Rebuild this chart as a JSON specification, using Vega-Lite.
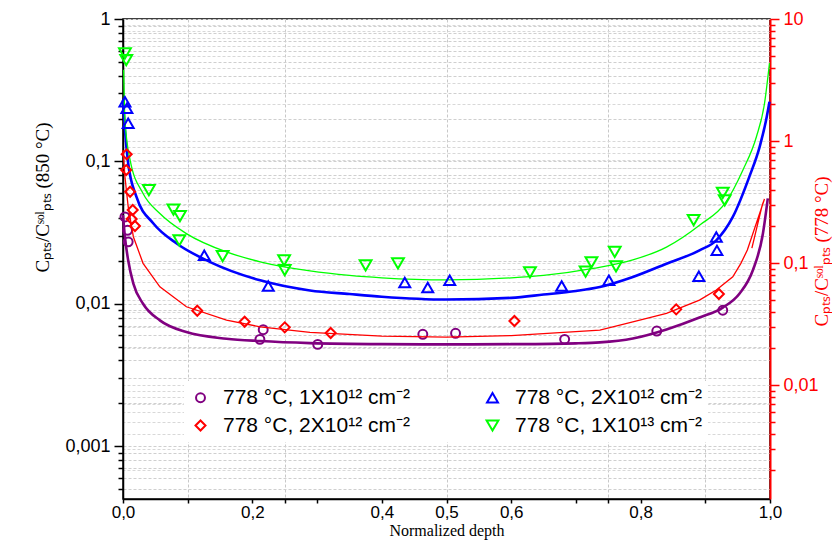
{
  "$schema": "https://vega.github.io/schema/vega-lite/v6.json",
  "width": 647,
  "height": 480,
  "autosize": "none",
  "padding": {"left": 123, "top": 19, "right": 62, "bottom": 45},
  "background": "white",
  "config": {"view": {"stroke": "black", "strokeWidth": 1.5}, "font": "Liberation Sans"},
  "datasets": {
    "curves": [
      {"s":"A","i":0,"x":0.0,"y":0.042},{"s":"A","i":1,"x":0.003,"y":0.0294},{"s":"A","i":2,"x":0.008,"y":0.0202},{"s":"A","i":3,"x":0.016,"y":0.01385},{"s":"A","i":4,"x":0.031,"y":0.0100},{"s":"A","i":5,"x":0.057,"y":0.00764},{"s":"A","i":6,"x":0.098,"y":0.00632},{"s":"A","i":7,"x":0.16,"y":0.00568},{"s":"A","i":8,"x":0.212,"y":0.00547},{"s":"A","i":9,"x":0.289,"y":0.00529},{"s":"A","i":10,"x":0.4,"y":0.0052},{"s":"A","i":11,"x":0.5,"y":0.00518},{"s":"A","i":12,"x":0.6,"y":0.0052},{"s":"A","i":13,"x":0.7,"y":0.00527},{"s":"A","i":14,"x":0.737,"y":0.00535},{"s":"A","i":15,"x":0.788,"y":0.0057},{"s":"A","i":16,"x":0.84,"y":0.0066},{"s":"A","i":17,"x":0.891,"y":0.008},{"s":"A","i":18,"x":0.927,"y":0.0094},{"s":"A","i":19,"x":0.953,"y":0.0118},{"s":"A","i":20,"x":0.9735,"y":0.0172},{"s":"A","i":21,"x":0.989,"y":0.031},{"s":"A","i":22,"x":0.9966,"y":0.055},
      {"s":"B","i":0,"x":0.0,"y":0.27},{"s":"B","i":1,"x":0.003,"y":0.166},{"s":"B","i":2,"x":0.008,"y":0.097},{"s":"B","i":3,"x":0.021,"y":0.056},{"s":"B","i":4,"x":0.047,"y":0.0366},{"s":"B","i":5,"x":0.083,"y":0.0265},{"s":"B","i":6,"x":0.134,"y":0.0197},{"s":"B","i":7,"x":0.212,"y":0.0146},{"s":"B","i":8,"x":0.289,"y":0.0124},{"s":"B","i":9,"x":0.35,"y":0.0117},{"s":"B","i":10,"x":0.4,"y":0.0112},{"s":"B","i":11,"x":0.5,"y":0.0107},{"s":"B","i":12,"x":0.6,"y":0.011},{"s":"B","i":13,"x":0.65,"y":0.0116},{"s":"B","i":14,"x":0.7,"y":0.0123},{"s":"B","i":15,"x":0.737,"y":0.0131},{"s":"B","i":16,"x":0.788,"y":0.0154},{"s":"B","i":17,"x":0.84,"y":0.0191},{"s":"B","i":18,"x":0.891,"y":0.0237},{"s":"B","i":19,"x":0.917,"y":0.0279},{"s":"B","i":20,"x":0.9425,"y":0.0407},{"s":"B","i":21,"x":0.968,"y":0.0778},{"s":"B","i":22,"x":0.984,"y":0.1265},{"s":"B","i":23,"x":0.994,"y":0.195},{"s":"B","i":24,"x":0.9992,"y":0.262},
      {"s":"D","i":0,"x":0.001,"y":0.44},{"s":"D","i":1,"x":0.003,"y":0.195},{"s":"D","i":2,"x":0.011,"y":0.102},{"s":"D","i":3,"x":0.031,"y":0.0595},{"s":"D","i":4,"x":0.057,"y":0.043},{"s":"D","i":5,"x":0.098,"y":0.0311},{"s":"D","i":6,"x":0.16,"y":0.0231},{"s":"D","i":7,"x":0.212,"y":0.0197},{"s":"D","i":8,"x":0.289,"y":0.017},{"s":"D","i":9,"x":0.35,"y":0.0158},{"s":"D","i":10,"x":0.4,"y":0.0152},{"s":"D","i":11,"x":0.5,"y":0.0147},{"s":"D","i":12,"x":0.6,"y":0.0152},{"s":"D","i":13,"x":0.65,"y":0.0158},{"s":"D","i":14,"x":0.7267,"y":0.0177},{"s":"D","i":15,"x":0.788,"y":0.0203},{"s":"D","i":16,"x":0.84,"y":0.025},{"s":"D","i":17,"x":0.891,"y":0.0356},{"s":"D","i":18,"x":0.932,"y":0.0519},{"s":"D","i":19,"x":0.958,"y":0.0867},{"s":"D","i":20,"x":0.979,"y":0.149},{"s":"D","i":21,"x":0.9915,"y":0.255},{"s":"D","i":22,"x":0.9992,"y":0.49},
      {"s":"C","i":0,"x":0.0,"y":0.8436},{"s":"C","i":1,"x":0.003,"y":0.5099},{"s":"C","i":2,"x":0.008,"y":0.2893},{"s":"C","i":3,"x":0.016,"y":0.1643},{"s":"C","i":4,"x":0.031,"y":0.0994},{"s":"C","i":5,"x":0.057,"y":0.0639},{"s":"C","i":6,"x":0.098,"y":0.0438},{"s":"C","i":7,"x":0.16,"y":0.0341},{"s":"C","i":8,"x":0.212,"y":0.03},{"s":"C","i":9,"x":0.289,"y":0.027},{"s":"C","i":10,"x":0.4,"y":0.0252},{"s":"C","i":11,"x":0.5,"y":0.0247},{"s":"C","i":12,"x":0.6,"y":0.0254},{"s":"C","i":13,"x":0.737,"y":0.0282},{"s":"C","i":14,"x":0.788,"y":0.033},{"s":"C","i":15,"x":0.84,"y":0.0387},{"s":"C","i":16,"x":0.891,"y":0.0497},{"s":"C","i":17,"x":0.917,"y":0.0601},{"s":"C","i":18,"x":0.9425,"y":0.0772},{"s":"C","i":19,"x":0.955,"y":0.0994},{"s":"C","i":20,"x":0.965,"y":0.1278},{"s":"C","i":21,"x":0.9915,"y":0.3347},{"s":"C","i":22,"x":0.988,"y":0.2987},{"s":"C","i":23,"x":0.972,"y":0.1327}
    ],
    "pts": [
      {"s":"A","x":0.003,"y":0.0407},{"s":"A","x":0.007,"y":0.0328},{"s":"A","x":0.008,"y":0.0272},{"s":"A","x":0.2167,"y":0.00657},{"s":"A","x":0.2116,"y":0.00562},{"s":"A","x":0.301,"y":0.00518},{"s":"A","x":0.4634,"y":0.0061},{"s":"A","x":0.514,"y":0.0062},{"s":"A","x":0.6826,"y":0.00562},{"s":"A","x":0.825,"y":0.00643},{"s":"A","x":0.927,"y":0.009},
      {"s":"B","x":0.003,"y":0.262},{"s":"B","x":0.006,"y":0.236},{"s":"B","x":0.008,"y":0.185},{"s":"B","x":0.1256,"y":0.0219},{"s":"B","x":0.2245,"y":0.0133},{"s":"B","x":0.4355,"y":0.0141},{"s":"B","x":0.471,"y":0.013},{"s":"B","x":0.505,"y":0.0146},{"s":"B","x":0.678,"y":0.0133},{"s":"B","x":0.751,"y":0.0146},{"s":"B","x":0.89,"y":0.0156},{"s":"B","x":0.917,"y":0.0294},{"s":"B","x":0.918,"y":0.0237},
      {"s":"D","x":0.003,"y":0.574},{"s":"D","x":0.005,"y":0.515},{"s":"D","x":0.04,"y":0.0627},{"s":"D","x":0.078,"y":0.0459},{"s":"D","x":0.088,"y":0.0412},{"s":"D","x":0.087,"y":0.0279},{"s":"D","x":0.154,"y":0.0216},{"s":"D","x":0.249,"y":0.0202},{"s":"D","x":0.25,"y":0.0172},{"s":"D","x":0.375,"y":0.0186},{"s":"D","x":0.425,"y":0.0192},{"s":"D","x":0.629,"y":0.0166},{"s":"D","x":0.715,"y":0.0168},{"s":"D","x":0.724,"y":0.0195},{"s":"D","x":0.76,"y":0.0231},{"s":"D","x":0.762,"y":0.0183},{"s":"D","x":0.882,"y":0.0386},{"s":"D","x":0.927,"y":0.06},{"s":"D","x":0.93,"y":0.0533},
      {"s":"C","x":0.0057,"y":0.778},{"s":"C","x":0.005,"y":0.578},{"s":"C","x":0.011,"y":0.384},{"s":"C","x":0.015,"y":0.272},{"s":"C","x":0.0134,"y":0.2294},{"s":"C","x":0.0185,"y":0.201},{"s":"C","x":0.1148,"y":0.0406},{"s":"C","x":0.188,"y":0.033},{"s":"C","x":0.25,"y":0.0297},{"s":"C","x":0.321,"y":0.0267},{"s":"C","x":0.605,"y":0.0335},{"s":"C","x":0.855,"y":0.0417},{"s":"C","x":0.921,"y":0.0557}
    ]
  },
  "encoding": {
    "x": {
      "field": "x", "type": "quantitative",
      "scale": {"domain": [0, 1], "nice": false, "zero": false},
      "axis": {
        "title": "Normalized depth", "titleFont": "Liberation Serif", "titleFontSize": 16, "titleFontWeight": "normal", "titleColor": "black", "titlePadding": 2,
        "values": [0, 0.1, 0.2, 0.25, 0.3, 0.4, 0.5, 0.6, 0.7, 0.75, 0.8, 0.9, 1],
        "labelExpr": "indexof([0,0.2,0.4,0.5,0.6,0.8,1], datum.value) >= 0 ? replace(format(datum.value,'.1f'),'.',',') : ''",
        "labelFont": "Liberation Sans", "labelFontSize": 17, "labelColor": "black", "labelOverlap": false, "labelFlush": false, "labelPadding": 1,
        "domainColor": "black", "domainWidth": 1.5, "tickColor": "black", "tickSize": 4, "tickWidth": 1.5,
        "grid": true, "gridColor": "#c8c8c8", "gridDash": [3, 2], "gridWidth": 1,
        "gridOpacity": {"condition": {"test": "indexof([0.1,0.25,0.5,0.75,0.9], datum.value) >= 0", "value": 1}, "value": 0}
      }
    }
  },
  "layer": [
    {
      "encoding": {
        "y": {
          "field": "y", "type": "quantitative",
          "scale": {"type": "log", "domain": [0.000425, 1], "nice": false},
          "axis": {
            "title": "Cₚₜₛ/Cˢᵒˡₚₜₛ (850 °C)", "titleFont": "Liberation Serif", "titleFontSize": 19, "titleFontWeight": "normal", "titleColor": "black", "titlePadding": 12, "titleY": 178,
            "values": [0.0005,0.0006,0.0007,0.0008,0.0009,0.001,0.002,0.003,0.004,0.005,0.006,0.007,0.008,0.009,0.01,0.02,0.03,0.04,0.05,0.06,0.07,0.08,0.09,0.1,0.2,0.3,0.4,0.5,0.6,0.7,0.8,0.9,1],
            "labelExpr": "datum.value == 1 ? '1' : datum.value == 0.1 ? '0,1' : datum.value == 0.01 ? '0,01' : datum.value == 0.001 ? '0,001' : ''",
            "labelFont": "Liberation Sans", "labelFontSize": 18, "labelColor": "black", "labelOverlap": false, "labelPadding": 4,
            "domainColor": "black", "domainWidth": 1.5, "tickColor": "black", "tickWidth": 1.5,
            "tickSize": {"condition": {"test": "indexof([0.001,0.01,0.1,1], datum.value) >= 0", "value": 9}, "value": 5},
            "grid": true, "gridColor": "#cfcfcf", "gridDash": [3, 2], "gridWidth": 1
          }
        }
      },
      "layer": [
        {"data": {"name": "curves"}, "transform": [{"filter": "datum.s === 'A'"}], "mark": {"type": "line", "interpolate": "monotone", "color": "#800080", "strokeWidth": 2.6}, "encoding": {"order": {"field": "i", "type": "quantitative"}}},
        {"data": {"name": "curves"}, "transform": [{"filter": "datum.s === 'B'"}], "mark": {"type": "line", "interpolate": "monotone", "color": "#0000ff", "strokeWidth": 2.6}, "encoding": {"order": {"field": "i", "type": "quantitative"}}},
        {"data": {"name": "curves"}, "transform": [{"filter": "datum.s === 'D'"}], "mark": {"type": "line", "interpolate": "monotone", "color": "#00ff00", "strokeWidth": 1.3}, "encoding": {"order": {"field": "i", "type": "quantitative"}}},
        {
          "data": {"name": "pts"},
          "transform": [{"filter": "datum.s !== 'C'"}],
          "mark": {"type": "point", "filled": false, "strokeWidth": 2, "opacity": 1},
          "encoding": {
            "color": {"field": "s", "type": "nominal", "scale": {"domain": ["A","C","B","D"], "range": ["#800080","#ff0000","#0000ff","#00ff00"]},
              "legend": {"title": null, "orient": "none", "legendX": 61, "legendY": 362, "columns": 2, "columnPadding": 72, "rowPadding": 6, "padding": 6, "fillColor": "white",
                "labelFont": "Liberation Sans", "labelFontSize": 21, "labelColor": "black", "labelLimit": 400, "labelOffset": 12,
                "symbolSize": 50, "symbolStrokeWidth": 2,
                "labelExpr": "{'A':'778 °C, 1X10¹² cm⁻²','B':'778 °C, 2X10¹² cm⁻²','C':'778 °C, 2X10¹² cm⁻²','D':'778 °C, 1X10¹³ cm⁻²'}[datum.value]"}},
            "shape": {"field": "s", "type": "nominal", "scale": {"domain": ["A","C","B","D"], "range": ["circle","diamond","triangle-up","triangle-down"]}},
            "size": {"field": "s", "type": "nominal", "scale": {"domain": ["A","C","B","D"], "range": [80, 140, 170, 170]}, "legend": null}
          }
        }
      ]
    },
    {
      "encoding": {
        "y": {
          "field": "y", "type": "quantitative",
          "scale": {"type": "log", "domain": [0.001164, 10], "nice": false},
          "axis": {
            "orient": "right",
            "title": "Cₚₜₛ/Cˢᵒˡₚₜₛ (778 °C)", "titleFont": "Liberation Serif", "titleFontSize": 19, "titleFontWeight": "normal", "titleColor": "#ff0000", "titleAngle": 270, "titleBaseline": "top", "titlePadding": -6, "titleY": 232,
            "values": [0.002,0.003,0.004,0.005,0.006,0.007,0.008,0.009,0.01,0.02,0.03,0.04,0.05,0.06,0.07,0.08,0.09,0.1,0.2,0.3,0.4,0.5,0.6,0.7,0.8,0.9,1,2,3,4,5,6,7,8,9,10],
            "labelExpr": "datum.value == 10 ? '10' : datum.value == 1 ? '1' : datum.value == 0.1 ? '0,1' : datum.value == 0.01 ? '0,01' : ''",
            "labelFont": "Liberation Sans", "labelFontSize": 18, "labelColor": "#ff0000", "labelOverlap": false, "labelPadding": 4,
            "domainColor": "#ff0000", "domainWidth": 2, "tickColor": "#ff0000", "tickWidth": 1.5,
            "tickSize": {"condition": {"test": "indexof([0.01,0.1,1,10], datum.value) >= 0", "value": 9}, "value": 5},
            "grid": true, "gridColor": "#d8d8d8", "gridDash": [3, 2], "gridWidth": 1
          }
        }
      },
      "layer": [
        {"data": {"name": "curves"}, "transform": [{"filter": "datum.s === 'C'"}], "mark": {"type": "line", "interpolate": "linear", "color": "#ff0000", "strokeWidth": 1.3}, "encoding": {"order": {"field": "i", "type": "quantitative"}}},
        {
          "data": {"name": "pts"},
          "transform": [{"filter": "datum.s === 'C'"}],
          "mark": {"type": "point", "filled": false, "strokeWidth": 2, "opacity": 1},
          "encoding": {
            "color": {"field": "s", "type": "nominal", "scale": {"domain": ["A","C","B","D"], "range": ["#800080","#ff0000","#0000ff","#00ff00"]},
              "legend": {"title": null, "orient": "none", "legendX": 61, "legendY": 362, "columns": 2, "columnPadding": 72, "rowPadding": 6, "padding": 6, "fillColor": "white",
                "labelFont": "Liberation Sans", "labelFontSize": 21, "labelColor": "black", "labelLimit": 400, "labelOffset": 12,
                "symbolSize": 50, "symbolStrokeWidth": 2,
                "labelExpr": "{'A':'778 °C, 1X10¹² cm⁻²','B':'778 °C, 2X10¹² cm⁻²','C':'778 °C, 2X10¹² cm⁻²','D':'778 °C, 1X10¹³ cm⁻²'}[datum.value]"}},
            "shape": {"field": "s", "type": "nominal", "scale": {"domain": ["A","C","B","D"], "range": ["circle","diamond","triangle-up","triangle-down"]}},
            "size": {"field": "s", "type": "nominal", "scale": {"domain": ["A","C","B","D"], "range": [80, 140, 170, 170]}, "legend": null}
          }
        }
      ]
    }
  ],
  "resolve": {"scale": {"y": "independent"}}
}
